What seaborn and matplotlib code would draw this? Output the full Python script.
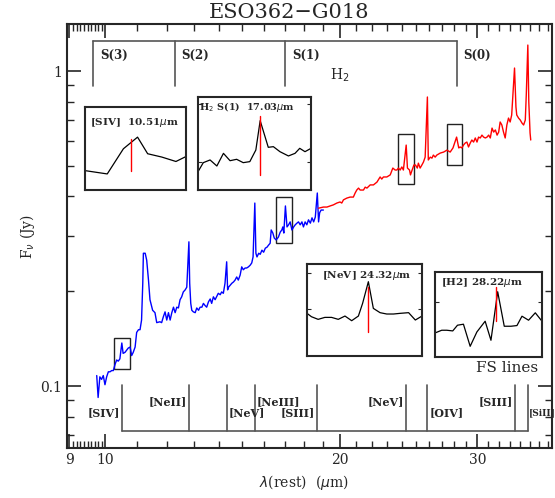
import matplotlib
matplotlib.use('Agg')
import matplotlib.pyplot as plt
import matplotlib.ticker as mticker
from matplotlib.patches import Rectangle
import numpy as np
import pandas as pd
import seaborn as sns

# spectrum, short-low part (blue)
blue_wl = [9.76, 9.80, 9.85, 9.90, 9.95, 10.00, 10.05, 10.10, 10.15, 10.20, 10.25, 10.30, 10.35, 10.40, 10.45,
           10.51, 10.55, 10.61, 10.66, 10.71, 10.77, 10.82, 10.87, 10.93, 10.98, 11.04, 11.09, 11.14, 11.18, 11.20,
           11.26, 11.31, 11.37, 11.42, 11.51, 11.59, 11.65, 11.76, 11.82, 11.88, 11.94, 12.00, 12.06, 12.12, 12.18,
           12.24, 12.30, 12.36, 12.42, 12.48, 12.54, 12.60, 12.67, 12.73, 12.81, 12.84, 12.88, 12.92, 12.98, 13.05,
           13.11, 13.18, 13.24, 13.31, 13.37, 13.44, 13.50, 13.57, 13.64, 13.70, 13.77, 13.84, 13.90, 13.97, 14.05,
           14.11, 14.18, 14.25, 14.32, 14.36, 14.40, 14.47, 14.54, 14.61, 14.68, 14.75, 14.82, 14.90, 14.97, 15.04,
           15.12, 15.19, 15.27, 15.35, 15.42, 15.48, 15.56, 15.61, 15.66, 15.74, 15.81, 15.89, 15.97, 16.05, 16.13,
           16.20, 16.28, 16.33, 16.41, 16.48, 16.57, 16.68, 16.77, 16.85, 16.90, 16.95, 17.03, 17.11, 17.19, 17.27,
           17.36, 17.45, 17.53, 17.62, 17.70, 17.79, 17.88, 17.96, 18.05, 18.14, 18.23, 18.33, 18.42, 18.51, 18.60,
           18.71, 18.78, 18.84, 18.92, 19.05]
blue_flux = [0.108, 0.092, 0.107, 0.105, 0.108, 0.101, 0.107, 0.111, 0.111, 0.112, 0.112, 0.117, 0.121, 0.120, 0.122,
             0.137, 0.127, 0.128, 0.130, 0.132, 0.133, 0.125, 0.128, 0.133, 0.148, 0.151, 0.151, 0.162, 0.212, 0.264,
             0.264, 0.251, 0.217, 0.188, 0.174, 0.171, 0.159, 0.160, 0.159, 0.166, 0.172, 0.162, 0.171, 0.162, 0.171,
             0.178, 0.171, 0.178, 0.177, 0.188, 0.192, 0.199, 0.202, 0.206, 0.287, 0.212, 0.183, 0.174, 0.172, 0.171,
             0.177, 0.174, 0.178, 0.178, 0.183, 0.180, 0.178, 0.185, 0.189, 0.183, 0.192, 0.188, 0.192, 0.197, 0.195,
             0.199, 0.197, 0.212, 0.248, 0.202, 0.206, 0.209, 0.212, 0.214, 0.217, 0.222, 0.217, 0.225, 0.239, 0.234,
             0.237, 0.237, 0.239, 0.242, 0.246, 0.257, 0.381, 0.264, 0.257, 0.264, 0.262, 0.270, 0.266, 0.274, 0.276,
             0.280, 0.284, 0.313, 0.306, 0.295, 0.291, 0.297, 0.308, 0.313, 0.320, 0.306, 0.373, 0.320, 0.325, 0.332,
             0.313, 0.320, 0.325, 0.329, 0.332, 0.325, 0.332, 0.320, 0.332, 0.325, 0.337, 0.329, 0.342, 0.332, 0.344,
             0.410, 0.332, 0.355, 0.362, 0.362]

# spectrum, long-low part (red)
red_wl = [18.78, 19.05, 19.25, 19.43, 19.62, 19.82, 20.01, 20.11, 20.21, 20.41, 20.61, 20.81, 20.92, 21.02, 21.13,
          21.23, 21.44, 21.55, 21.66, 21.87, 22.08, 22.31, 22.52, 22.63, 22.74, 22.97, 23.20, 23.38, 23.54, 23.66,
          23.77, 23.89, 24.01, 24.12, 24.32, 24.41, 24.56, 24.63, 24.75, 24.88, 25.00, 25.13, 25.21, 25.34, 25.47,
          25.59, 25.72, 25.89, 25.96, 26.11, 26.24, 26.35, 26.49, 26.62, 26.89, 27.16, 27.43, 27.69, 27.92, 28.22,
          28.40, 28.52, 28.66, 28.80, 28.95, 29.09, 29.23, 29.38, 29.52, 29.67, 29.82, 29.97, 30.11, 30.26, 30.41,
          30.56, 30.72, 30.87, 31.02, 31.17, 31.33, 31.48, 31.64, 31.80, 31.95, 32.09, 32.25, 32.41, 32.57, 32.73,
          32.89, 33.05, 33.20, 33.48, 33.62, 33.70, 33.88, 34.05, 34.22, 34.39, 34.56, 34.66, 34.82, 34.92, 35.05,
          35.12]
red_flux = [0.367, 0.370, 0.370, 0.373, 0.376, 0.381, 0.384, 0.381, 0.390, 0.395, 0.398, 0.398, 0.410, 0.419, 0.425,
            0.419, 0.419, 0.428, 0.425, 0.435, 0.435, 0.444, 0.461, 0.454, 0.461, 0.461, 0.468, 0.492, 0.485, 0.485,
            0.492, 0.485, 0.496, 0.485, 0.582, 0.492, 0.485, 0.468, 0.485, 0.503, 0.503, 0.492, 0.510, 0.492, 0.503,
            0.514, 0.533, 0.827, 0.522, 0.533, 0.529, 0.541, 0.533, 0.541, 0.549, 0.553, 0.561, 0.553, 0.570, 0.617,
            0.570, 0.574, 0.570, 0.582, 0.591, 0.595, 0.574, 0.591, 0.604, 0.595, 0.613, 0.595, 0.617, 0.613, 0.626,
            0.617, 0.613, 0.617, 0.626, 0.613, 0.659, 0.640, 0.650, 0.626, 0.640, 0.689, 0.674, 0.640, 0.613, 0.674,
            0.709, 0.689, 0.725, 1.022, 0.769, 0.725, 0.709, 0.699, 0.684, 0.674, 0.699, 0.839, 1.209, 0.797, 0.636,
            0.604]

# H2 rotational lines (top bracket)
h2_names = ['S(3)', 'S(2)', 'S(1)', 'S(0)']
h2_wl = [9.66, 12.28, 17.03, 28.22]

# fine structure lines (bottom bracket)
fs_names = ['[SIV]', '[NeII]', '[NeV]', '[NeIII]', '[SIII]', '[NeV]', '[OIV]', '[SIII]', '[SiII]']
fs_wl = [10.51, 12.81, 14.32, 15.56, 18.71, 24.32, 25.89, 33.48, 34.82]
fs_high = [False, True, False, True, False, True, False, True, False]
fs_right = [False, False, True, True, False, False, True, False, True]

# zoom windows marked on the spectrum
box_wl_lo = [10.27, 16.57, 23.72, 27.47]
box_wl_hi = [10.77, 17.37, 24.88, 28.66]
box_f_lo = [0.1134, 0.2846, 0.438, 0.503]
box_f_hi = [0.1423, 0.398, 0.631, 0.679]

# inset spectra
ins1_wl = [10.28, 10.39, 10.47, 10.54, 10.59, 10.66, 10.73, 10.78]
ins1_f = [0.119, 0.1178, 0.1269, 0.1311, 0.1251, 0.1239, 0.1223, 0.1241]
ins2_wl = [16.70, 16.728, 16.764, 16.80, 16.835, 16.87, 16.905, 16.94, 16.975, 17.007, 17.03, 17.073, 17.10,
           17.135, 17.18, 17.215, 17.24, 17.268, 17.30]
ins2_f = [0.3197, 0.3294, 0.3323, 0.3258, 0.3394, 0.3315, 0.3330, 0.3294, 0.3305, 0.3430, 0.3746, 0.3459, 0.3466,
          0.3412, 0.3366, 0.3394, 0.3448, 0.3412, 0.3448]
ins3_wl = [24.0, 24.023, 24.058, 24.093, 24.128, 24.163, 24.198, 24.233, 24.268, 24.29, 24.32, 24.346, 24.381,
           24.416, 24.451, 24.486, 24.53, 24.565, 24.60]
ins3_f = [0.5196, 0.5141, 0.5098, 0.5130, 0.5130, 0.5098, 0.5152, 0.5076, 0.5152, 0.5359, 0.5712, 0.5277, 0.5207,
          0.5185, 0.5185, 0.5196, 0.5207, 0.5087, 0.5152]
ins4_wl = [27.82, 27.864, 27.897, 27.936, 27.967, 28.006, 28.05, 28.094, 28.148, 28.186, 28.23, 28.273, 28.317,
           28.356, 28.389, 28.432, 28.476, 28.52]
ins4_f = [0.5483, 0.5515, 0.5515, 0.5507, 0.5574, 0.5586, 0.5326, 0.5495, 0.5621, 0.5397, 0.5968, 0.5562, 0.5562,
          0.5570, 0.5680, 0.5633, 0.5720, 0.5621]

sns.set_style('ticks')
plt.rcParams['font.family'] = ['DejaVu Serif']
plt.rcParams['axes.linewidth'] = 1.5

df_blue = pd.DataFrame({'wl': blue_wl, 'flux': blue_flux})
df_red = pd.DataFrame({'wl': red_wl, 'flux': red_flux})

fig = plt.figure(figsize=(5.55, 4.98), dpi=100)
ax = fig.add_axes([0.1207, 0.1004, 0.874, 0.8514])

sns.lineplot(data=df_blue, x='wl', y='flux', color='#0000ff', lw=1.0, ax=ax)
sns.lineplot(data=df_red, x='wl', y='flux', color='#ff0000', lw=1.0, ax=ax)

ax.set_xscale('log')
ax.set_yscale('log')
ax.set_xlim(8.94, 37.4)
ax.set_ylim(0.0636, 1.41)

ax.xaxis.set_major_locator(mticker.FixedLocator([9, 10, 20, 30]))
ax.xaxis.set_major_formatter(mticker.FixedFormatter(['9', '10', '20', '30']))
ax.xaxis.set_minor_locator(mticker.FixedLocator(
    list(np.arange(9.1, 9.95, 0.1)) + list(range(11, 20)) + list(range(21, 30)) + list(range(31, 38))))
ax.xaxis.set_minor_formatter(mticker.NullFormatter())
ax.yaxis.set_major_locator(mticker.FixedLocator([0.1, 1]))
ax.yaxis.set_major_formatter(mticker.FixedFormatter(['0.1', '1']))
ax.yaxis.set_minor_locator(mticker.FixedLocator([0.07, 0.08, 0.09, 0.2, 0.3, 0.4, 0.5, 0.6, 0.7, 0.8, 0.9]))
ax.yaxis.set_minor_formatter(mticker.NullFormatter())
ax.tick_params(which='both', direction='in', top=True, right=True, labelsize=10)
ax.tick_params(which='major', length=10, width=1.2)
ax.tick_params(which='minor', length=5, width=1.0)

ax.set_title('ESO362\u2212G018', fontsize=15, pad=4, x=0.458)
ax.set_xlabel(r'$\lambda$(rest)  ($\mu$m)', fontsize=10)
ax.set_ylabel(r'F$_\nu$ (Jy)', fontsize=10)
ax.xaxis.set_label_coords(0.488, -0.060)
ax.yaxis.set_label_coords(-0.062, 0.50)

# H2 bracket
brk = '#555555'
ax.plot([h2_wl[0], h2_wl[-1]], [1.245, 1.245], color=brk, lw=1.2)
for name, wl in zip(h2_names, h2_wl):
    ax.plot([wl, wl], [0.896, 1.245], color=brk, lw=1.2)
    ax.annotate(name, (wl, 1.124), xytext=(5, 0), textcoords='offset points',
                ha='left', va='center', fontsize=8.5, fontweight='bold')
ax.text(20.0, 0.97, r'H$_2$', fontsize=10, ha='center', va='center')

# FS lines bracket
ax.plot([fs_wl[0], fs_wl[-1]], [0.072, 0.072], color=brk, lw=1.2)
for name, wl, hi, right in zip(fs_names, fs_wl, fs_high, fs_right):
    ax.plot([wl, wl], [0.072, 0.1007], color=brk, lw=1.2)
    last = name == '[SiII]' and wl == fs_wl[-1]
    ax.annotate(name, (wl, 0.089 if hi else 0.0821), xytext=((0.6 if last else 1.5) if right else -1.5, 0),
                textcoords='offset points', ha='left' if right else 'right', va='center',
                fontsize=6.5 if last else 8, fontweight='bold')
ax.text(32.76, 0.114, 'FS lines', fontsize=11, ha='center', va='center')

# zoom windows
for x0, x1, y0, y1 in zip(box_wl_lo, box_wl_hi, box_f_lo, box_f_hi):
    ax.add_patch(Rectangle((x0, y0), x1 - x0, y1 - y0, fill=False, ec='#222222', lw=1.0))

# insets
insets = [
    ([0.1532, 0.6185, 0.182, 0.1667], ins1_wl, ins1_f, 10.51, (0.1188, 0.1305), (0.112, 0.142),
     r'[SIV]  10.51$\mu$m', (0.49, 0.81), []),
    ([0.3568, 0.6185, 0.2036, 0.1867], ins2_wl, ins2_f, 17.03, (0.3161, 0.3796), (0.30, 0.40),
     r'H$_2$ S(1)  17.03$\mu$m', (0.43, 0.89), [0.33, 0.393]),
    ([0.5532, 0.2851, 0.2072, 0.1847], ins3_wl, ins3_f, 24.32, (0.4886, 0.5630), (0.45, 0.60),
     r'[NeV] 24.32$\mu$m', (0.52, 0.88), [0.526, 0.585]),
    ([0.7838, 0.2831, 0.1928, 0.1707], ins4_wl, ins4_f, 28.22, (0.5625, 0.6027), (0.52, 0.62),
     r'[H2] 28.22$\mu$m', (0.44, 0.88), [0.585]),
]
for rect, wl, fl, line_wl, red_span, ylim, label, lpos, yt in insets:
    axin = fig.add_axes(rect)
    sns.lineplot(x=wl, y=fl, color='k', lw=0.9, ax=axin)
    axin.plot([line_wl, line_wl], red_span, color='red', lw=1.0)
    axin.set_xlim(wl[0], wl[-1])
    axin.set_ylim(*ylim)
    axin.set_xticks([])
    axin.set_yticks(yt)
    axin.tick_params(direction='in', left=True, right=True, length=3, labelleft=False)
    axin.set_xlabel('')
    axin.set_ylabel('')
    for s in axin.spines.values():
        s.set_linewidth(1.5)
    axin.text(lpos[0], lpos[1], label, transform=axin.transAxes, ha='center', va='center',
              fontsize=7 if 'S(1)' in label else 7.5, fontweight='bold')

fig.savefig('out.png', dpi=100)
